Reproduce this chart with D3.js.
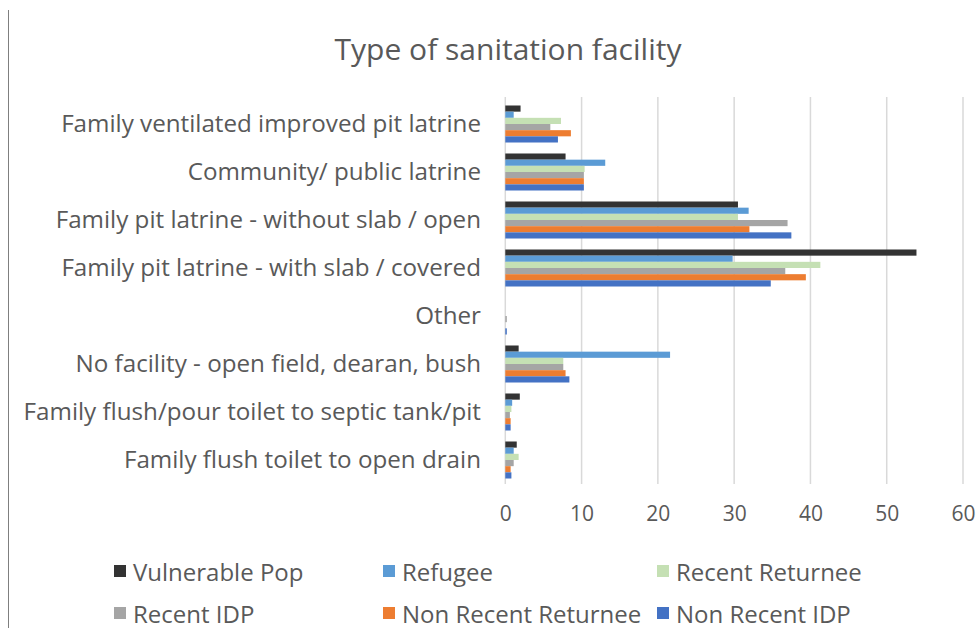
<!DOCTYPE html>
<html>
<head>
<meta charset="utf-8">
<script src="https://cdn.jsdelivr.net/npm/d3@7"></script>
<style>
  html, body { margin: 0; padding: 0; background: #fff; }
  svg { display: block; }
  text { font-family: "Open Sans", "Noto Sans", sans-serif; fill: #595959; }
</style>
</head>
<body>
<svg id="chart" width="977" height="628"></svg>
<script>
const categories = [
  "Family ventilated improved pit latrine",
  "Community/ public latrine",
  "Family pit latrine - without slab / open",
  "Family pit latrine - with slab / covered",
  "Other",
  "No facility - open field, dearan, bush",
  "Family flush/pour toilet to septic tank/pit",
  "Family flush toilet to open drain"
];
const seriesNames = ["Vulnerable Pop", "Refugee", "Recent Returnee", "Recent IDP", "Non Recent Returnee", "Non Recent IDP"];
const seriesColors = ["#333333", "#5B9BD5", "#C5E0B4", "#A5A5A5", "#ED7D31", "#4472C4"];
const vulnerablePop    = [2.0, 7.9, 30.5, 53.9, 0,   1.75, 1.9, 1.5];
const refugee          = [1.1, 13.1, 31.9, 29.8, 0,  21.6, 0.9, 1.1];
const recentReturnee   = [7.3, 10.4, 30.5, 41.3, 0,   7.6, 0.8, 1.75];
const recentIDP        = [5.9, 10.3, 37.0, 36.7, 0.2, 7.6, 0.6, 1.1];
const nonRecentReturnee= [8.6, 10.3, 32.0, 39.4, 0,   7.9, 0.7, 0.7];
const nonRecentIDP     = [6.9, 10.3, 37.5, 34.8, 0.2, 8.4, 0.7, 0.8];
const xTicks = [0, 10, 20, 30, 40, 50, 60];
const title = "Type of sanitation facility";

const seriesValues = [vulnerablePop, refugee, recentReturnee, recentIDP, nonRecentReturnee, nonRecentIDP];

const svg = d3.select("#chart");

// left border line
svg.append("line").attr("x1", 8.5).attr("x2", 8.5).attr("y1", 10).attr("y2", 628)
  .attr("stroke", "#7f7f7f").attr("stroke-width", 1);

const x = d3.scaleLinear().domain([0, 60]).range([505.3, 963]);
const y = d3.scaleBand().domain(categories).range([100, 484]).paddingInner(0.229).paddingOuter(0.1145);
const ys = d3.scaleBand().domain(seriesNames).range([0, y.bandwidth()]);

// gridlines
svg.append("g").selectAll("line").data(xTicks).join("line")
  .attr("x1", d => x(d)).attr("x2", d => x(d))
  .attr("y1", 97).attr("y2", 484)
  .attr("stroke", "#d9d9d9").attr("stroke-width", 1.5);

// bars
const g = svg.append("g");
seriesNames.forEach((s, si) => {
  g.append("g").selectAll("rect").data(categories).join("rect")
    .attr("x", x(0))
    .attr("y", c => y(c) + ys(s))
    .attr("width", (c, i) => x(seriesValues[si][i]) - x(0))
    .attr("height", ys.bandwidth())
    .attr("fill", seriesColors[si]);
});

// x axis labels
const xAxis = d3.axisBottom(x).tickValues(xTicks).tickSize(0).tickPadding(0);
const xa = svg.append("g").attr("transform", "translate(0,506)").call(xAxis);
xa.select(".domain").remove();
xa.selectAll("text").attr("font-size", 21).attr("fill", "#595959").attr("dy", "0.71em")
  .style("font-family", "'Open Sans', sans-serif");

// category labels
const yAxis = d3.axisLeft(y).tickSize(0).tickPadding(0);
const ya = svg.append("g").attr("transform", "translate(481,0)").call(yAxis);
ya.select(".domain").remove();
ya.selectAll("text").attr("font-size", 24.2).attr("fill", "#595959")
  .style("font-family", "'Open Sans', sans-serif");

// title
svg.append("text").attr("x", 508).attr("y", 48).attr("text-anchor", "middle")
  .attr("dominant-baseline", "central").attr("font-size", 30).text(title);

// legend
const legendCols = [114, 383, 657];
const legendRows = [571, 613];
const lg = svg.append("g");
seriesNames.forEach((s, i) => {
  const cx = legendCols[i % 3], cy = legendRows[Math.floor(i / 3)];
  lg.append("rect").attr("x", cx).attr("y", cy - 6).attr("width", 12).attr("height", 12)
    .attr("fill", seriesColors[i]);
  lg.append("text").attr("x", cx + 19).attr("y", cy).attr("dominant-baseline", "central")
    .attr("font-size", 24).text(s);
});
</script>
</body>
</html>
